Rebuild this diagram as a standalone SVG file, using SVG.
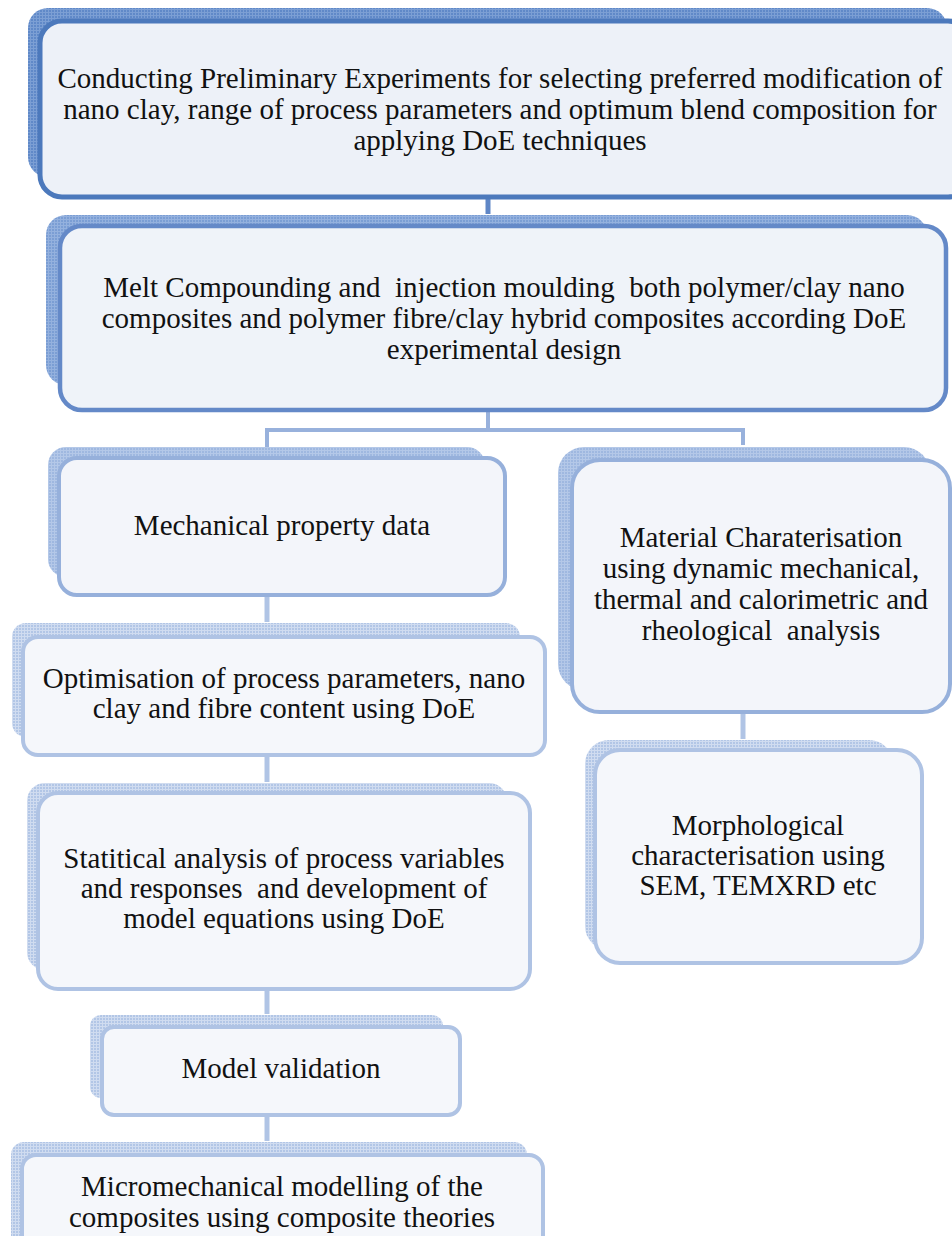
<svg xmlns="http://www.w3.org/2000/svg" width="952" height="1236" viewBox="0 0 952 1236">
  <defs>
    <style>
      .lbl { font-family: "Liberation Serif", "Times New Roman", serif; font-size: 29px; fill: #111; text-anchor: middle; }
      .back1 { fill: url(#grid1); }
      .front1 { fill: #edf1f8; stroke: #4c79bc; stroke-width: 5; }
      .back2 { fill: url(#grid2); }
      .front2 { fill: #eff3f9; stroke: #6489c8; stroke-width: 4.5; }
      .back3 { fill: url(#grid3); }
      .front3 { fill: #f3f5fa; stroke: #96b0db; stroke-width: 4; }
      .back4 { fill: url(#grid4); }
      .front4 { fill: #f5f7fb; stroke: #afc3e4; stroke-width: 4; }
      .conn1 { stroke: #5f86c6; stroke-width: 5; fill: none; }
      .conn2 { stroke: #98b1dc; stroke-width: 4; fill: none; }
      .conn3 { stroke: #b0c4e5; stroke-width: 5; fill: none; }
    </style>
    <!-- fine grid textures for the offset back panels -->
    <pattern id="grid1" width="3" height="3" patternUnits="userSpaceOnUse">
      <rect width="3" height="3" fill="#6089c8"/>
      <path d="M0 0.5H3M0.5 0V3" stroke="#7c9fd4" stroke-width="1"/>
    </pattern>
    <pattern id="grid2" width="3" height="3" patternUnits="userSpaceOnUse">
      <rect width="3" height="3" fill="#7b9ed4"/>
      <path d="M0 0.5H3M0.5 0V3" stroke="#94b1de" stroke-width="1"/>
    </pattern>
    <pattern id="grid3" width="3" height="3" patternUnits="userSpaceOnUse">
      <rect width="3" height="3" fill="#9fb8e0"/>
      <path d="M0 0.5H3M0.5 0V3" stroke="#b4c8e8" stroke-width="1"/>
    </pattern>
    <pattern id="grid4" width="3" height="3" patternUnits="userSpaceOnUse">
      <rect width="3" height="3" fill="#b2c6e6"/>
      <path d="M0 0.5H3M0.5 0V3" stroke="#d0dcf0" stroke-width="1"/>
    </pattern>
  </defs>
  <rect width="952" height="1236" fill="#ffffff"/>

  <!-- connectors -->
  <g id="connectors">
    <line class="conn1" x1="488" y1="197" x2="488" y2="214"/>
    <polyline class="conn2" points="488,410 488,430 267,430 267,447"/>
    <polyline class="conn2" points="488,430 743,430 743,445"/>
    <line class="conn3" x1="267" y1="595" x2="267" y2="622"/>
    <line class="conn3" x1="267" y1="755" x2="267" y2="782"/>
    <line class="conn3" x1="267" y1="989" x2="267" y2="1014"/>
    <line class="conn3" x1="267" y1="1115" x2="267" y2="1141"/>
    <line class="conn3" x1="743" y1="712" x2="743" y2="739"/>
  </g>

  <!-- preliminary experiments -->
  <g id="node-preliminary">
    <rect class="back1" x="28" y="8" width="919" height="169" rx="20"/>
    <rect class="front1" x="40" y="21" width="930" height="176" rx="22"/>
    <text class="lbl" x="500" y="88">Conducting Preliminary Experiments for selecting preferred modification of</text>
    <text class="lbl" x="500" y="119">nano clay, range of process parameters and optimum blend composition for</text>
    <text class="lbl" x="500" y="150">applying DoE techniques</text>
  </g>

  <!-- compounding and moulding -->
  <g id="node-compounding">
    <rect class="back2" x="46" y="215" width="881" height="170" rx="20"/>
    <rect class="front2" x="60" y="226" width="886" height="184" rx="22"/>
    <text class="lbl" x="504" y="297" xml:space="preserve">Melt Compounding and  injection moulding  both polymer/clay nano</text>
    <text class="lbl" x="504" y="328">composites and polymer fibre/clay hybrid composites according DoE</text>
    <text class="lbl" x="504" y="359">experimental design</text>
  </g>

  <!-- mechanical property data -->
  <g id="node-mechanical">
    <rect class="back3" x="48" y="447" width="437" height="130" rx="18"/>
    <rect class="front3" x="59" y="458" width="446" height="137" rx="18"/>
    <text class="lbl" x="282" y="535">Mechanical property data</text>
  </g>

  <!-- material characterisation -->
  <g id="node-material">
    <rect class="back3" x="558" y="447" width="372" height="243" rx="26"/>
    <rect class="front3" x="572" y="460" width="378" height="252" rx="28"/>
    <text class="lbl" x="761" y="547">Material Charaterisation</text>
    <text class="lbl" x="761" y="578">using dynamic mechanical,</text>
    <text class="lbl" x="761" y="609">thermal and calorimetric and</text>
    <text class="lbl" x="761" y="640" xml:space="preserve">rheological  analysis</text>
  </g>

  <!-- optimisation -->
  <g id="node-optimisation">
    <rect class="back4" x="12" y="623" width="508" height="114" rx="14"/>
    <rect class="front4" x="23" y="637" width="522" height="118" rx="15"/>
    <text class="lbl" x="284" y="688">Optimisation of process parameters, nano</text>
    <text class="lbl" x="284" y="718">clay and fibre content using DoE</text>
  </g>

  <!-- morphological characterisation -->
  <g id="node-morphological">
    <rect class="back4" x="585" y="740" width="308" height="210" rx="24"/>
    <rect class="front4" x="595" y="750" width="327" height="213" rx="25"/>
    <text class="lbl" x="758" y="835">Morphological</text>
    <text class="lbl" x="758" y="865">characterisation using</text>
    <text class="lbl" x="758" y="895">SEM, TEMXRD etc</text>
  </g>

  <!-- statistical analysis -->
  <g id="node-statistical">
    <rect class="back4" x="27" y="783" width="480" height="187" rx="18"/>
    <rect class="front4" x="38" y="793" width="492" height="196" rx="20"/>
    <text class="lbl" x="284" y="868">Statitical analysis of process variables</text>
    <text class="lbl" x="284" y="898" xml:space="preserve">and responses  and development of</text>
    <text class="lbl" x="284" y="928">model equations using DoE</text>
  </g>

  <!-- model validation -->
  <g id="node-validation">
    <rect class="back4" x="90" y="1015" width="353" height="83" rx="11"/>
    <rect class="front4" x="102" y="1027" width="358" height="88" rx="12"/>
    <text class="lbl" x="281" y="1078">Model validation</text>
  </g>

  <!-- micromechanical modelling -->
  <g id="node-micromechanical">
    <rect class="back4" x="11" y="1142" width="516" height="110" rx="13"/>
    <rect class="front4" x="22" y="1155" width="521" height="100" rx="14"/>
    <text class="lbl" x="282" y="1196">Micromechanical modelling of the</text>
    <text class="lbl" x="282" y="1227">composites using composite theories</text>
  </g>
</svg>
